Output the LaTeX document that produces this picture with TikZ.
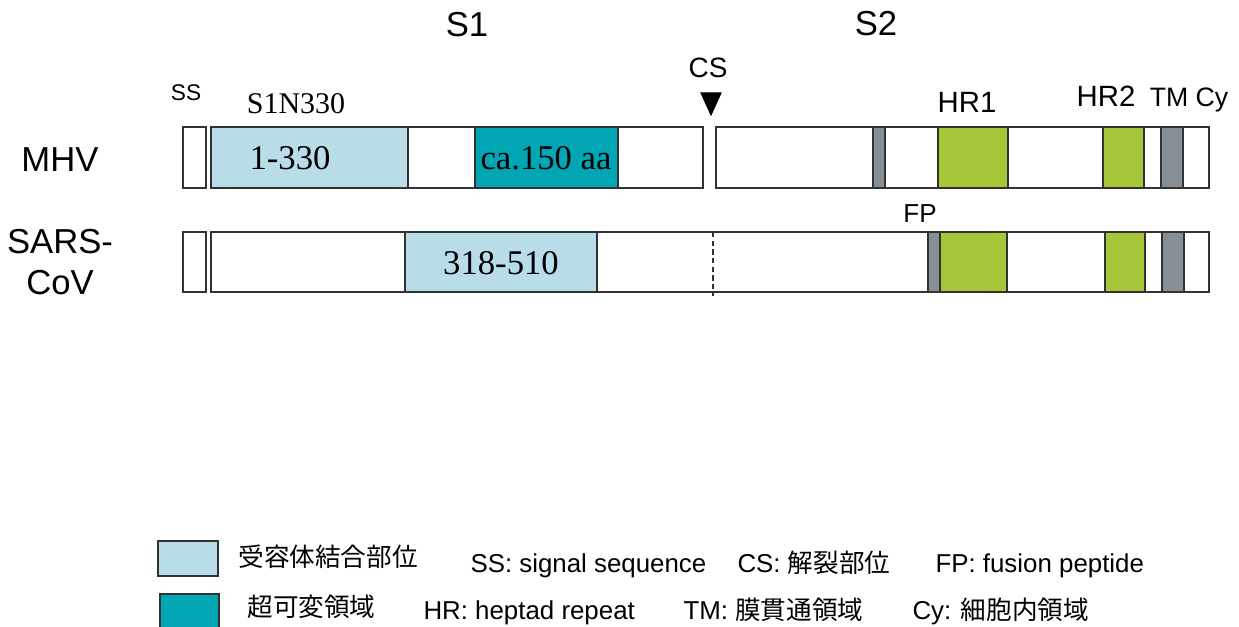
\documentclass[tikz,border=0pt]{standalone}
\usepackage{fontspec}
\setmainfont{Liberation Sans}
\newfontfamily\timesf{Liberation Serif}
\newfontfamily\jpf{Noto Sans CJK JP}
\definecolor{rbdblue}{RGB}{184,220,232}
\definecolor{hvrteal}{RGB}{0,166,180}
\definecolor{hrgreen}{RGB}{166,199,57}
\definecolor{tmgray}{RGB}{134,142,150}
\definecolor{edgegray}{RGB}{50,50,50}

\tikzset{every picture/.style={line width=0.75pt}}
\tikzset{
  seg/.style={draw=edgegray, line width=1.1pt},
  txt/.style={inner sep=0.75pt},
  big/.style={font=\fontsize{26}{30}\selectfont},
  mid/.style={font=\fontsize{22}{26}\selectfont},
  sml/.style={font=\fontsize{17}{20}\selectfont},
  serif/.style={font=\timesf\fontsize{26}{30}\selectfont},
  leg/.style={font=\fontsize{19.4}{22}\selectfont, anchor=base west},
  legjp/.style={font=\jpf\fontsize{19.2}{22}\selectfont, anchor=base west},
}
\newcommand{\jpin}[1]{{\jpf\fontsize{19.2}{22}\selectfont #1}}

\begin{document}
\begin{tikzpicture}[x=0.75pt,y=0.75pt,yscale=-1,xscale=1]
\useasboundingbox (0,0) rectangle (1239,627);

%Shape: Rectangle MHV signal sequence
\draw [seg, fill=white] (183,127) rectangle (206,188) ;
%Shape: Rectangle MHV S1
\draw [seg, fill=white] (211,127) rectangle (703,188) ;
\draw [seg, fill=rbdblue] (211,127) rectangle (408,188) ;
\draw [seg, fill=hvrteal] (475,127) rectangle (618,188) ;
%Shape: Rectangle MHV S2
\draw [seg, fill=white] (716,127) rectangle (1209,188) ;
\draw [seg, fill=tmgray] (873,127) rectangle (885,188) ;
\draw [seg, fill=hrgreen] (938,127) rectangle (1008,188) ;
\draw [seg, fill=hrgreen] (1103,127) rectangle (1144,188) ;
\draw [seg, fill=tmgray] (1161,127) rectangle (1183,188) ;

%Shape: Rectangle SARS signal sequence
\draw [seg, fill=white] (183,232) rectangle (206,292) ;
%Shape: Rectangle SARS S1+S2
\draw [seg, fill=white] (211,232) rectangle (1209,292) ;
\draw [seg, fill=rbdblue] (405,232) rectangle (597,292) ;
\draw [seg, fill=tmgray] (928,232) rectangle (940,292) ;
\draw [seg, fill=hrgreen] (940,232) rectangle (1007,292) ;
\draw [seg, fill=hrgreen] (1105,232) rectangle (1145,292) ;
\draw [seg, fill=tmgray] (1162,232) rectangle (1184,292) ;
%Straight Lines cleavage site
\draw [draw=edgegray, line width=0.8pt, dash pattern=on 4pt off 2.5pt] (713,232) -- (713,296) ;

%Shape: Triangle CS
\draw [fill=black, draw=black] (701,93) -- (721,93) -- (711,115) -- cycle ;

% Text Node
\draw (467,25) node [txt, big] (s1) {S1};
% Text Node
\draw (876,24) node [txt, big] (s2) {S2};
% Text Node
\draw (708,78) node [txt, anchor=base, font=\fontsize{21}{24}\selectfont] (cs) {CS};
% Text Node
\draw (186,93) node [txt, sml] (ss) {SS};
% Text Node
\draw (296,104) node [txt, font=\timesf\fontsize{22.5}{26}\selectfont] (s1n) {S1N330};
% Text Node
\draw (967,113) node [txt, anchor=base, mid] (hr1) {HR1};
% Text Node
\draw (1106,107) node [txt, anchor=base, mid] (hr2) {HR2};
% Text Node
\draw (1169,107) node [txt, anchor=base, font=\fontsize{20}{24}\selectfont] (tm) {TM};
% Text Node
\draw (1212,107) node [txt, anchor=base, font=\fontsize{20}{24}\selectfont] (cy) {Cy};
% Text Node
\draw (920,223) node [txt, anchor=base, font=\fontsize{19.5}{22}\selectfont] (fp) {FP};
% Text Node
\draw (60,160) node [txt, big] (mhv) {MHV};
% Text Node
\draw (60,262) node [txt, align=center, font=\fontsize{26}{31}\selectfont] (sars) {SARS-\\CoV};
% Text Node
\draw (290,158) node [txt, serif] (r1) {1-330};
% Text Node
\draw (546,158) node [txt, serif] (r2) {ca.150 aa};
% Text Node
\draw (501,263) node [txt, serif] (r3) {318-510};

%Shape: Rectangle legend
\draw [seg, line width=0.8pt, fill=rbdblue] (158,541) rectangle (218,576) ;
\draw [seg, line width=0.8pt, fill=hvrteal] (160,594) rectangle (219,630) ;

% Text Node
\draw (237,566) node [txt, legjp] (l1) {受容体結合部位};
% Text Node
\draw (469,572) node [txt, leg] (l2) {SS: signal sequence};
% Text Node
\draw (736,572) node [txt, leg] (l3) {CS: \jpin{解裂部位}};
% Text Node
\draw (934,572) node [txt, leg] (l4) {FP: fusion peptide};
% Text Node
\draw (246,616) node [txt, legjp] (l5) {超可変領域};
% Text Node
\draw (422,619) node [txt, leg] (l6) {HR: heptad repeat};
% Text Node
\draw (682,619) node [txt, leg] (l7) {TM: \jpin{膜貫通領域}};
% Text Node
\draw (911,619) node [txt, leg] (l8) {Cy: \jpin{細胞内領域}};

\end{tikzpicture}
\end{document}
